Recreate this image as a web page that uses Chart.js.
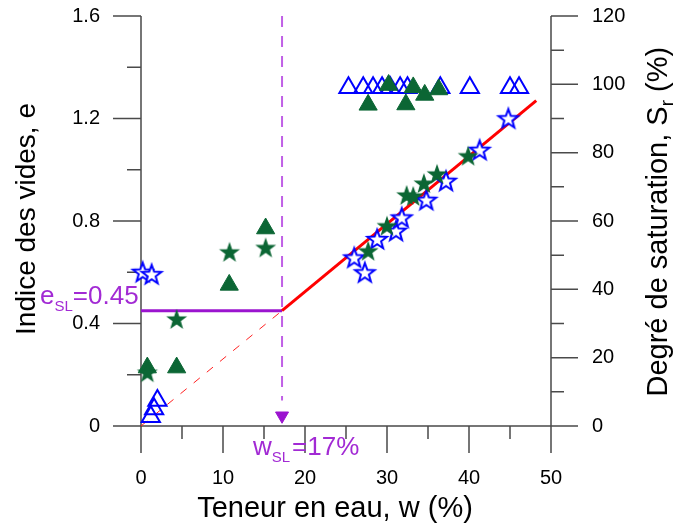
<!DOCTYPE html>
<html><head><meta charset="utf-8">
<script src="https://cdn.jsdelivr.net/npm/chart.js@4.4.1/dist/chart.umd.min.js"></script>
<style>html,body{margin:0;padding:0;background:#fff;}canvas{display:block;}</style>
</head><body>
<canvas id="c" width="678" height="527"></canvas>
<script>
// ---- tick values ----
const xTicks = [0, 10, 20, 30, 40, 50];
const xMinorTicks = [5, 15, 25, 35, 45];
const eTicks = [0, 0.4, 0.8, 1.2, 1.6];
const eMinorTicks = [0.2, 0.6, 1.0, 1.4];
const srTicks = [0, 20, 40, 60, 80, 100, 120];
const srMinorTicks = [10, 30, 50, 70, 90, 110];

// ---- data: void ratio e (left axis) ----
const blueStarW = [0.2, 1.3, 26.0, 27.3, 28.8, 31.1, 31.8, 34.8, 37.2, 41.3, 44.8];
const blueStarE = [0.598, 0.589, 0.654, 0.596, 0.726, 0.758, 0.810, 0.879, 0.953, 1.074, 1.197];
const greenStarW = [0.77, 4.35, 10.8, 15.2, 27.7, 30.0, 32.4, 33.2, 34.5, 36.1, 39.9];
const greenStarE = [0.206, 0.414, 0.676, 0.693, 0.680, 0.778, 0.898, 0.894, 0.944, 0.980, 1.051];

// ---- data: degree of saturation Sr (right axis) ----
const blueTriW = [1.2, 1.6, 2.0, 25.3, 27.1, 28.3, 29.4, 30.4, 31.6, 32.5, 36.5, 40.1, 45.0, 46.1];
const blueTriSr = [2.7, 5.0, 7.5, 99, 99, 99, 99, 99, 99, 99, 99, 99, 99, 99];
const greenTriW = [0.77, 4.35, 10.76, 15.2, 27.7, 30.2, 32.3, 33.2, 34.6, 36.3];
const greenTriSr = [17.1, 17.1, 41.3, 57.8, 94.0, 99.8, 94.1, 99.1, 96.9, 98.5];

// ---- shrinkage limit construction ----
const wSL = 17.2, eSL = 0.45;
const satLineW = [wSL, 48.2], satLineE = [eSL, 1.27];
const satDashW = [0, wSL], satDashE = [0, eSL];
const eslLineW = [0, wSL], eslLineE = [eSL, eSL];
const wslLineW = [wSL, wSL], wslLineE = [1.6, 0.1];
const arrowW = [wSL], arrowE = [0.04];

const FONT = "'Liberation Sans', Arial, sans-serif";
const AXIS = '#4a4a4a';
const BLUE = '#0000ff';
const GREEN = '#0b6634';
const PURPLE = '#9b14cf';
const PURPLE_TXT = '#a22ad4';
const PURPLE_DASH = '#c060e6';

function pts(xs, ys) { return xs.map((v, i) => ({x: v, y: ys[i]})); }

function starCanvas(R, ri, fill, stroke, lw) {
  const pad = Math.ceil(lw) + 1;
  let s = Math.ceil(2 * R) + 2 * pad; if (s % 2) s++;
  const c = document.createElement('canvas'); c.width = s; c.height = s;
  const g = c.getContext('2d');
  g.translate(s / 2, s / 2);
  g.beginPath();
  for (let i = 0; i < 10; i++) {
    const a = -Math.PI / 2 + i * Math.PI / 5;
    const rr = i % 2 ? ri : R;
    g.lineTo(rr * Math.cos(a), rr * Math.sin(a));
  }
  g.closePath();
  if (fill) { g.fillStyle = fill; g.fill(); }
  if (stroke) { g.strokeStyle = stroke; g.lineWidth = lw; g.stroke(); }
  return c;
}
const greenStar = starCanvas(11, 4.4, GREEN, null, 0);
const blueStar = starCanvas(10.2, 4.2, '#ffffff', BLUE, 2);

const deco = {
  id: 'deco',
  beforeDatasetsDraw(chart) {
    const ctx = chart.ctx, x = chart.scales.x, y = chart.scales.y, y2 = chart.scales.y2;
    const yb = y.getPixelForValue(0), yt = y.getPixelForValue(1.6);
    const xl = x.getPixelForValue(0), xr = x.getPixelForValue(50);
    ctx.save();
    ctx.strokeStyle = AXIS; ctx.lineWidth = 1.5; ctx.lineCap = 'butt';
    ctx.beginPath();
    ctx.moveTo(xl, yb); ctx.lineTo(xr, yb);
    ctx.moveTo(xl, yt); ctx.lineTo(xl, yb);
    ctx.moveTo(xr, y2.getPixelForValue(120)); ctx.lineTo(xr, yb);
    xTicks.forEach(v => { const p = x.getPixelForValue(v); ctx.moveTo(p, yb); ctx.lineTo(p, yb + 27); });
    xMinorTicks.forEach(v => { const p = x.getPixelForValue(v); ctx.moveTo(p, yb); ctx.lineTo(p, yb + 13); });
    eTicks.forEach(v => { const p = y.getPixelForValue(v); ctx.moveTo(xl, p); ctx.lineTo(xl - 28, p); });
    eMinorTicks.forEach(v => { const p = y.getPixelForValue(v); ctx.moveTo(xl, p); ctx.lineTo(xl - 14, p); });
    srTicks.forEach(v => { const p = y2.getPixelForValue(v); ctx.moveTo(xr, p); ctx.lineTo(xr + 27, p); });
    srMinorTicks.forEach(v => { const p = y2.getPixelForValue(v); ctx.moveTo(xr, p); ctx.lineTo(xr + 13, p); });
    ctx.stroke();
    ctx.restore();
  },
  afterDraw(chart) {
    const ctx = chart.ctx;
    ctx.save();
    ctx.fillStyle = '#000';
    ctx.textBaseline = 'alphabetic';
    // x title
    ctx.font = '29px ' + FONT; ctx.textAlign = 'center';
    ctx.fillText('Teneur en eau, w (%)', 335, 516.5);
    // left title
    ctx.save(); ctx.translate(34.5, 219); ctx.rotate(-Math.PI / 2);
    ctx.font = '28px ' + FONT; ctx.textAlign = 'center';
    ctx.fillText('Indice des vides, e', 0, 0);
    ctx.restore();
    // right title with subscript
    ctx.save(); ctx.translate(667, 396.5); ctx.rotate(-Math.PI / 2);
    ctx.textAlign = 'left';
    let t = 'Degré de saturation, S';
    ctx.font = '29px ' + FONT; ctx.fillText(t, 0, 0);
    let px = ctx.measureText(t).width;
    ctx.font = '19px ' + FONT; ctx.fillText('r', px, 6);
    px += ctx.measureText('r').width;
    ctx.font = '29px ' + FONT; ctx.fillText(' (%)', px, 0);
    ctx.restore();
    // e_SL label
    ctx.fillStyle = PURPLE_TXT; ctx.textAlign = 'left';
    let cx = 40;
    ctx.font = '26px ' + FONT; ctx.fillText('e', cx, 304.3); cx += ctx.measureText('e').width;
    ctx.font = '15px ' + FONT; ctx.fillText('SL', cx, 311); cx += ctx.measureText('SL').width;
    ctx.font = '26px ' + FONT; ctx.fillText('=0.45', cx, 304.3);
    // w_SL label
    cx = 253;
    ctx.font = '26px ' + FONT; ctx.fillText('w', cx, 455); cx += ctx.measureText('w').width;
    ctx.font = '15px ' + FONT; ctx.fillText('SL', cx, 462); cx += ctx.measureText('SL').width + 2;
    ctx.font = '26px ' + FONT; ctx.fillText('=17%', cx, 455);
    ctx.restore();
  }
};

const lineDs = (xs, ys, color, width, dash, order) => ({
  data: pts(xs, ys), yAxisID: 'y', showLine: true, borderColor: color, borderWidth: width,
  borderDash: dash, pointRadius: 0, fill: false, order: order, clip: false
});

const hiddenTickGrid = len => ({ display: true, drawOnChartArea: false, drawTicks: true,
  tickLength: len, tickColor: 'rgba(0,0,0,0)', color: 'rgba(0,0,0,0)' });

new Chart(document.getElementById('c'), {
  type: 'scatter',
  data: {
    datasets: [
      { data: pts(greenStarW, greenStarE), yAxisID: 'y', pointStyle: greenStar, pointRadius: 11, order: 1, clip: false },
      { data: pts(greenTriW, greenTriSr), yAxisID: 'y2', pointStyle: 'triangle', pointRadius: 10.5,
        backgroundColor: GREEN, borderColor: GREEN, borderWidth: 1, order: 2, clip: false },
      { data: pts(blueStarW, blueStarE), yAxisID: 'y', pointStyle: blueStar, pointRadius: 10, order: 3, clip: false },
      { data: pts(blueTriW, blueTriSr), yAxisID: 'y2', pointStyle: 'triangle', pointRadius: 10.5,
        backgroundColor: 'rgba(0,0,0,0)', borderColor: BLUE, borderWidth: 2, order: 4, clip: false },
      lineDs(satLineW, satLineE, '#ff0000', 3, [], 6),
      lineDs(satDashW, satDashE, '#ff2020', 1, [8, 9], 7),
      lineDs(eslLineW, eslLineE, PURPLE, 3, [], 8),
      lineDs(wslLineW, wslLineE, PURPLE_DASH, 2, [11, 9], 9),
      { data: pts(arrowW, arrowE), yAxisID: 'y', pointStyle: 'triangle', rotation: 180, pointRadius: 7.5,
        backgroundColor: PURPLE, borderColor: PURPLE, borderWidth: 1, order: 5, clip: false }
    ]
  },
  options: {
    responsive: false, animation: false, events: [],
    layout: { padding: { top: 16, left: 0, right: 0, bottom: 0 } },
    plugins: { legend: { display: false }, tooltip: { enabled: false } },
    scales: {
      x: {
        type: 'linear', position: 'bottom', min: 0, max: 50,
        grid: hiddenTickGrid(40), border: { display: false },
        afterBuildTicks: s => { s.ticks = xTicks.map(v => ({value: v})); },
        ticks: { font: { size: 20, family: FONT }, color: '#000', padding: 0, maxRotation: 0, autoSkip: false },
        afterFit: s => { s.height = 101; }
      },
      y: {
        type: 'linear', position: 'left', min: 0, max: 1.6,
        grid: hiddenTickGrid(41), border: { display: false },
        afterBuildTicks: s => { s.ticks = eTicks.map(v => ({value: v})); },
        ticks: { font: { size: 20, family: FONT }, color: '#000', padding: 0, autoSkip: false,
                 callback: v => String(v) },
        afterFit: s => { s.width = 141; }
      },
      y2: {
        type: 'linear', position: 'right', min: 0, max: 120,
        grid: hiddenTickGrid(41), border: { display: false },
        afterBuildTicks: s => { s.ticks = srTicks.map(v => ({value: v})); },
        ticks: { font: { size: 20, family: FONT }, color: '#000', padding: 0, autoSkip: false,
                 callback: v => String(v) },
        afterFit: s => { s.width = 127; }
      }
    }
  },
  plugins: [deco]
});
</script>
</body></html>
